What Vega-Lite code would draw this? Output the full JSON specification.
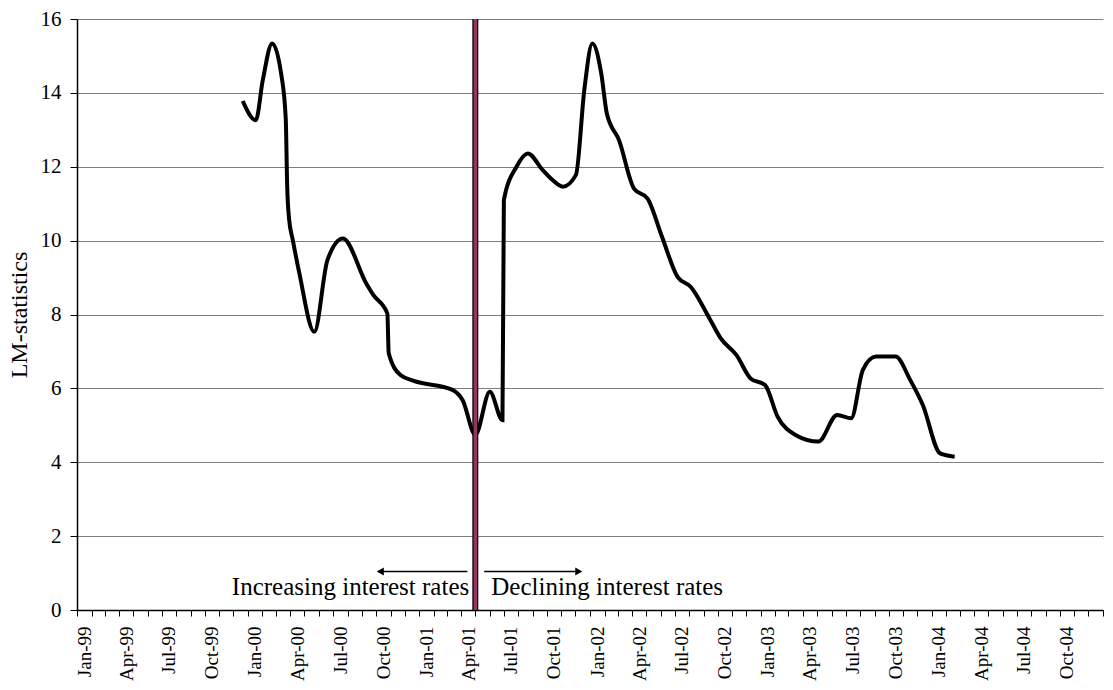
{
  "$schema": "https://vega.github.io/schema/vega-lite/v6.json",
  "width": 1026,
  "height": 591,
  "autosize": "none",
  "padding": {"left": 77, "top": 19, "right": 10, "bottom": 80},
  "background": "white",
  "config": {
    "font": "Liberation Serif",
    "view": {"stroke": null},
    "axis": {"domainColor": "black", "tickColor": "black", "labelColor": "black", "titleColor": "black", "labelFont": "Liberation Serif", "titleFont": "Liberation Serif", "titleFontWeight": "normal"}
  },
  "datasets": {
    "series": [
      {"date": "1999-12-21", "v": 13.78},
      {"date": "2000-01-18", "v": 13.26},
      {"date": "2000-02-02", "v": 14.35},
      {"date": "2000-02-22", "v": 15.34},
      {"date": "2000-03-12", "v": 14.53},
      {"date": "2000-03-22", "v": 13.3},
      {"date": "2000-03-25", "v": 11.5},
      {"date": "2000-03-29", "v": 10.6},
      {"date": "2000-04-06", "v": 10.02},
      {"date": "2000-04-20", "v": 9.12},
      {"date": "2000-05-22", "v": 7.53},
      {"date": "2000-06-19", "v": 9.47},
      {"date": "2000-07-22", "v": 10.06},
      {"date": "2000-09-10", "v": 8.84},
      {"date": "2000-09-25", "v": 8.53},
      {"date": "2000-10-25", "v": 8.03},
      {"date": "2000-10-28", "v": 6.95},
      {"date": "2000-11-22", "v": 6.36},
      {"date": "2000-12-19", "v": 6.21},
      {"date": "2001-03-13", "v": 5.96},
      {"date": "2001-04-04", "v": 5.68},
      {"date": "2001-05-01", "v": 4.74},
      {"date": "2001-06-01", "v": 5.91},
      {"date": "2001-06-28", "v": 5.14},
      {"date": "2001-07-01", "v": 11.1},
      {"date": "2001-07-28", "v": 12.0},
      {"date": "2001-08-21", "v": 12.36},
      {"date": "2001-09-22", "v": 11.91},
      {"date": "2001-10-13", "v": 11.64},
      {"date": "2001-11-04", "v": 11.46},
      {"date": "2001-12-02", "v": 11.78},
      {"date": "2001-12-20", "v": 14.1},
      {"date": "2002-01-06", "v": 15.34},
      {"date": "2002-01-25", "v": 14.53},
      {"date": "2002-02-06", "v": 13.44},
      {"date": "2002-03-04", "v": 12.72},
      {"date": "2002-04-05", "v": 11.41},
      {"date": "2002-05-04", "v": 11.14},
      {"date": "2002-06-04", "v": 10.1},
      {"date": "2002-07-07", "v": 9.02},
      {"date": "2002-08-04", "v": 8.75},
      {"date": "2002-09-13", "v": 7.9},
      {"date": "2002-10-07", "v": 7.36},
      {"date": "2002-11-10", "v": 6.9},
      {"date": "2002-12-10", "v": 6.27},
      {"date": "2003-01-10", "v": 6.09},
      {"date": "2003-02-06", "v": 5.23},
      {"date": "2003-03-16", "v": 4.74},
      {"date": "2003-05-04", "v": 4.56},
      {"date": "2003-06-13", "v": 5.28},
      {"date": "2003-07-13", "v": 5.19},
      {"date": "2003-08-07", "v": 6.5},
      {"date": "2003-09-04", "v": 6.86},
      {"date": "2003-10-16", "v": 6.86},
      {"date": "2003-11-16", "v": 6.23},
      {"date": "2003-12-13", "v": 5.55},
      {"date": "2004-01-19", "v": 4.24},
      {"date": "2004-02-19", "v": 4.15}
    ],
    "marker": [{"date": "2001-05-01"}],
    "arrows": [
      {"start": "2001-04-14", "end": "2000-10-06", "y": 1.04},
      {"start": "2001-05-20", "end": "2001-12-12", "y": 1.04}
    ],
    "heads": [
      {"date": "2000-10-10", "y": 1.04, "shape": "triangle-left"},
      {"date": "2001-12-08", "y": 1.04, "shape": "triangle-right"}
    ],
    "labels": [
      {"date": "2001-04-18", "y": 0.41, "label": "Increasing interest rates", "align": "right"},
      {"date": "2001-06-04", "y": 0.41, "label": "Declining interest rates", "align": "left"}
    ]
  },
  "layer": [
    {
      "data": {"name": "series"},
      "mark": {"type": "line", "color": "black", "strokeWidth": 4, "interpolate": "monotone", "strokeCap": "butt"},
      "encoding": {
        "x": {
          "field": "date", "type": "temporal",
          "scale": {"type": "utc", "domain": [{"year": 1999, "month": 1, "date": 1, "utc": true}, {"year": 2005, "month": 1, "date": 1, "utc": true}], "nice": false},
          "axis": {
            "title": null,
            "grid": false,
            "tickCount": {"interval": "month", "step": 1},
            "labelExpr": "(utcmonth(datum.value) % 3 == 0 && utcyear(datum.value) < 2005) ? utcFormat(datum.value, '%b-%y') : ''",
            "labelAngle": -90,
            "labelOffset": 7,
            "labelFontSize": 19,
            "labelOverlap": false,
            "labelBound": false,
            "labelFlush": false,
            "labelPadding": 10,
            "tickSize": 6,
            "domainWidth": 1.5
          }
        },
        "y": {
          "field": "v", "type": "quantitative",
          "scale": {"domain": [0, 16], "nice": false, "zero": true},
          "axis": {
            "title": "LM-statistics",
            "titleFontSize": 24,
            "titlePadding": 9,
            "values": [0, 2, 4, 6, 8, 10, 12, 14, 16],
            "labelFontSize": 21,
            "labelPadding": 9,
            "tickSize": 7,
            "grid": true,
            "gridColor": "#7f7f7f",
            "gridWidth": 1.2,
            "domainWidth": 1.5
          }
        }
      }
    },
    {
      "data": {"name": "marker"},
      "mark": {"type": "rule", "color": "black", "strokeWidth": 6},
      "encoding": {"x": {"field": "date", "type": "temporal"}}
    },
    {
      "data": {"name": "marker"},
      "mark": {"type": "rule", "color": "#993366", "strokeWidth": 3.5},
      "encoding": {"x": {"field": "date", "type": "temporal"}}
    },
    {
      "data": {"name": "arrows"},
      "mark": {"type": "rule", "color": "black", "strokeWidth": 1.5},
      "encoding": {
        "x": {"field": "start", "type": "temporal"},
        "x2": {"field": "end"},
        "y": {"field": "y", "type": "quantitative"}
      }
    },
    {
      "data": {"name": "heads"},
      "mark": {"type": "point", "filled": true, "color": "black", "size": 65, "opacity": 1},
      "encoding": {
        "x": {"field": "date", "type": "temporal"},
        "y": {"field": "y", "type": "quantitative"},
        "shape": {"field": "shape", "type": "nominal", "scale": {"domain": ["triangle-left", "triangle-right"], "range": ["triangle-left", "triangle-right"]}, "legend": null}
      }
    },
    {
      "data": {"name": "labels"},
      "transform": [{"filter": "datum.align == 'right'"}],
      "mark": {"type": "text", "align": "right", "baseline": "alphabetic", "fontSize": 25, "font": "Liberation Serif", "color": "black"},
      "encoding": {
        "x": {"field": "date", "type": "temporal"},
        "y": {"field": "y", "type": "quantitative"},
        "text": {"field": "label"}
      }
    },
    {
      "data": {"name": "labels"},
      "transform": [{"filter": "datum.align == 'left'"}],
      "mark": {"type": "text", "align": "left", "baseline": "alphabetic", "fontSize": 25, "font": "Liberation Serif", "color": "black"},
      "encoding": {
        "x": {"field": "date", "type": "temporal"},
        "y": {"field": "y", "type": "quantitative"},
        "text": {"field": "label"}
      }
    }
  ]
}
